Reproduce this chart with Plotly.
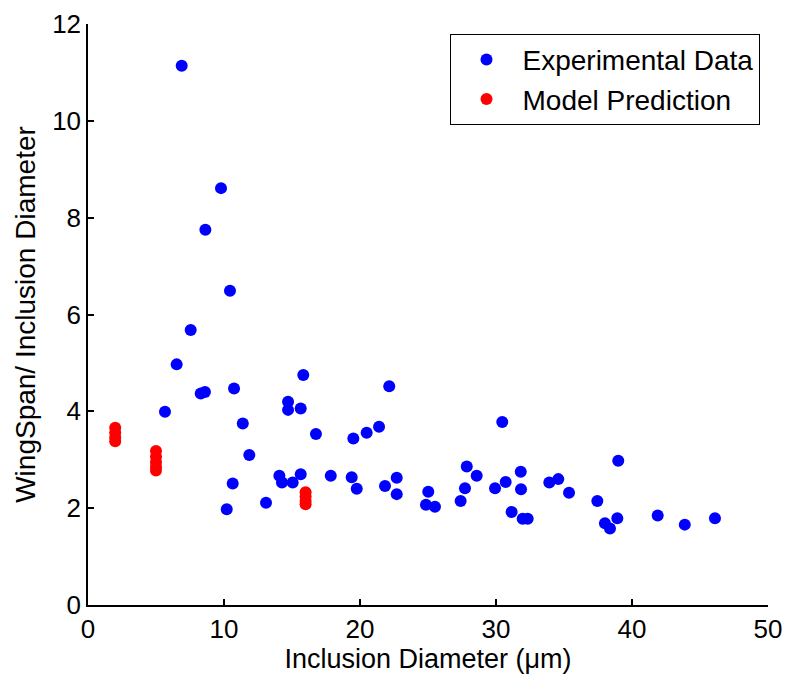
import plotly.graph_objects as go

exp_x = [6.89, 9.78, 8.63, 10.44, 7.55, 6.52, 8.29, 8.60, 10.74, 5.66,
         15.83, 14.71, 14.71, 15.64, 11.38, 16.76, 11.86, 14.07, 14.26, 15.05,
         15.64, 10.64, 13.09, 10.20, 22.15, 19.51, 20.49, 21.40, 30.46, 17.85,
         19.39, 19.76, 21.84, 22.70, 22.70, 25.02, 24.85, 25.51, 27.85, 28.58,
         27.72, 27.40, 29.93, 30.71, 31.82, 31.84, 31.15, 31.96, 32.33, 38.99,
         33.92, 34.58, 35.37, 37.45, 38.01, 38.38, 38.92, 41.89, 43.88, 46.10]
exp_y = [11.14, 8.61, 7.75, 6.49, 5.68, 4.97, 4.37, 4.40, 4.47, 3.99,
         4.75, 4.20, 4.03, 4.06, 3.75, 3.53, 3.10, 2.67, 2.53, 2.53,
         2.70, 2.51, 2.11, 1.98, 4.52, 3.44, 3.56, 3.68, 3.78, 2.67,
         2.64, 2.40, 2.46, 2.63, 2.29, 2.34, 2.07, 2.03, 2.86, 2.67,
         2.41, 2.15, 2.41, 2.54, 2.75, 2.39, 1.92, 1.78, 1.78, 2.98,
         2.53, 2.60, 2.32, 2.15, 1.69, 1.58, 1.79, 1.85, 1.66, 1.79]

model_x = [2, 2, 2, 2, 5, 5, 5, 5, 5, 16, 16, 16, 16]
model_y = [3.66, 3.56, 3.46, 3.38, 3.18, 3.06, 2.95, 2.85, 2.78, 2.33, 2.24, 2.15, 2.08]

x_ticks = [0, 10, 20, 30, 40, 50]
y_ticks = [0, 2, 4, 6, 8, 10, 12]

FONT = "Liberation Sans, Arial, sans-serif"

fig = go.Figure()
fig.add_trace(go.Scatter(x=exp_x, y=exp_y, mode="markers", name="Experimental Data",
                         marker=dict(color="#0000ff", size=12, line=dict(width=0))))
fig.add_trace(go.Scatter(x=model_x, y=model_y, mode="markers", name="Model Prediction",
                         marker=dict(color="#ff0000", size=12, line=dict(width=0))))

axis_common = dict(showgrid=False, zeroline=False, showline=True, linecolor="black",
                   linewidth=1.5, mirror=False, ticks="inside", ticklen=6,
                   tickcolor="black", tickwidth=1.5, automargin=False,
                   tickfont=dict(family=FONT, size=26, color="black"))

fig.update_xaxes(range=[0, 50], tickvals=x_ticks, ticktext=[str(v) for v in x_ticks],
                 ticklabeloverflow="allow",
                 title=dict(text="Inclusion Diameter (\u03bcm)",
                            font=dict(family=FONT, size=27, color="black"), standoff=2),
                 **axis_common)
fig.update_yaxes(range=[0, 12], tickvals=y_ticks, ticktext=[str(v) for v in y_ticks],
                 title=dict(text="WingSpan/ Inclusion Diameter",
                            font=dict(family=FONT, size=28, color="black"), standoff=8),
                 **axis_common)

fig.update_layout(
    width=787, height=677,
    margin=dict(l=88, r=19, t=24, b=72),
    paper_bgcolor="white", plot_bgcolor="white",
    showlegend=True,
    legend=dict(x=0.9875, y=0.983, xanchor="right", yanchor="top",
                bgcolor="white", bordercolor="black", borderwidth=1,
                font=dict(family=FONT, size=28, color="black"),
                itemwidth=62, itemsizing="constant", tracegroupgap=0),
    font=dict(family=FONT, color="black"),
)

fig.write_html("out.html")
